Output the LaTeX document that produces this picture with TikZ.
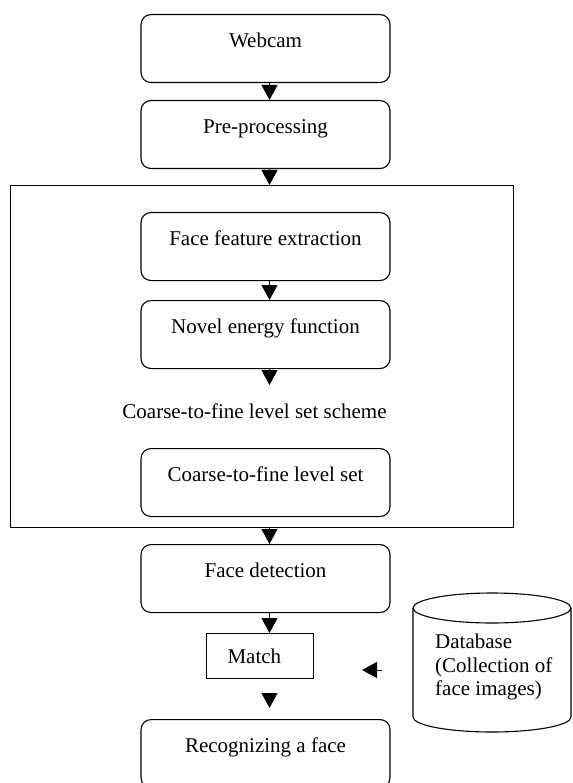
\documentclass[tikz,border=0pt]{standalone}
\usepackage{fontspec}
\setmainfont{Liberation Serif}
\usetikzlibrary{arrows.meta}
\begin{document}
\begin{tikzpicture}[x=1pt,y=-1pt,
  font=\fontsize{21}{23.5}\selectfont,
  stepbox/.style={draw, line width=1.1pt, rounded corners=10pt, minimum width=249pt,
    text height=33pt, text depth=35pt, inner ysep=0pt, anchor=north},
  matchbox/.style={draw, line width=1.1pt, minimum width=107pt, text width=65pt, align=left,
    inner xsep=21pt, inner ysep=0pt, text height=30pt, text depth=15pt, anchor=north west},
  arr/.style={line width=1pt, -{Triangle[width=16pt,length=15pt]}},
  lbl/.style={inner sep=0pt, anchor=base west}
]
\useasboundingbox (0,0) rectangle (572,783);
% outer frame
\node[draw, line width=1.1pt, minimum width=503pt, minimum height=342pt, inner sep=0pt,
  anchor=north west] (frame) at (10,185) {};
% boxes
\node[stepbox] (webcam) at (265.5,14) {Webcam};
\node[stepbox] (pre) at (265.5,100) {Pre-processing};
\node[stepbox] (feat) at (265.5,212) {Face feature extraction};
\node[stepbox] (novel) at (265.5,300) {Novel energy function};
\node[inner sep=0pt, anchor=base] (scheme) at (254.5,418) {Coarse-to-fine level set scheme};
\node[stepbox] (ctf) at (265.5,448) {Coarse-to-fine level set};
\node[stepbox] (det) at (265.5,544) {Face detection};
\node[matchbox] (match) at (206,633) {Match};
\node[stepbox] (rec) at (265.5,719) {Recognizing a face};
% database cylinder
\draw[line width=1.1pt] (413,608) -- (413,717) arc (180:0:79 and 15) -- (571,608);
\draw[line width=1.1pt] (492,608) ellipse (79 and 15);
\node[lbl] (db1) at (435,648) {Database};
\node[lbl] (db2) at (435,672) {(Collection of};
\node[lbl] (db3) at (435,695) {face images)};
% coordinates for free ends
\coordinate (a4) at (269.5,385);
\coordinate (dbtail) at (382,670);
\coordinate (dbtip) at (362,670);
% arrows
\draw[arr] ([xshift=4pt]webcam.south) -- ([xshift=4pt]pre.north);
\draw[arr] ([xshift=4pt]pre.south) -- (pre.south -| a4) ++(0,0) -- (frame.north -| a4);
\draw[arr] ([xshift=4pt]feat.south) -- ([xshift=4pt]novel.north);
\draw[arr] ([xshift=4pt]novel.south) -- (a4);
\draw[arr] (frame.south -| a4) -- ([xshift=4pt]det.north);
\draw[arr] ([xshift=4pt]det.south) -- (match.north -| a4);
\draw[arr, shorten <=14pt, shorten >=11pt] (match.south -| a4) -- ([xshift=4pt]rec.north);
\draw[arr] (dbtail) -- (dbtip);
\end{tikzpicture}
\end{document}
